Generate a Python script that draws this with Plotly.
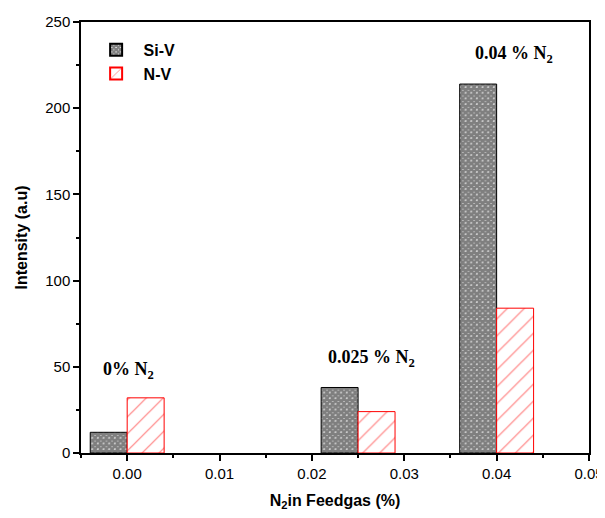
import plotly.graph_objects as go

groups = [0.0, 0.025, 0.04]
si_v = [12, 38, 214]
n_v = [32, 24, 84]
labels = ["0% N<sub>2</sub>", "0.025 % N<sub>2</sub>", "0.04 % N<sub>2</sub>"]
label_x = [0.0001, 0.0264, 0.0419]
label_y = [48, 55, 231]

fig = go.Figure()
fig.add_trace(go.Bar(
    x=groups, y=si_v, name="Si-V", width=0.004, offset=-0.004,
    marker=dict(color="white", line=dict(color="black", width=1),
                pattern=dict(shape="x", fgcolor="black", bgcolor="white", size=4, solidity=0.9)),
))
fig.add_trace(go.Bar(
    x=groups, y=n_v, name="N-V", width=0.004, offset=0,
    marker=dict(color="white", line=dict(color="red", width=1),
                pattern=dict(shape="/", fgcolor="red", bgcolor="white", size=12, solidity=0.1)),
))
for t, xx, yy in zip(labels, label_x, label_y):
    fig.add_annotation(x=xx, y=yy, text=t, showarrow=False,
                       font=dict(family="Liberation Serif", size=18, color="black", weight="bold"),
                       xanchor="center", yanchor="middle")

fig.update_layout(
    width=597, height=510,
    margin=dict(l=73, r=16, t=14, b=65, autoexpand=False),
    plot_bgcolor="white", paper_bgcolor="white",
    barmode="overlay",
    font=dict(family="Arial", size=15, color="black"),
    showlegend=True,
    legend=dict(x=0.015, y=0.975, xanchor="left", yanchor="top",
                font=dict(family="Arial", size=16, color="black", weight="bold"),
                bgcolor="rgba(0,0,0,0)", itemsizing="constant", itemwidth=45, tracegroupgap=2),
    xaxis=dict(range=[-0.005, 0.05], dtick=0.01, tick0=0, tickformat=".2f",
               automargin=False,
               showline=True, linecolor="black", linewidth=1.5, mirror=True,
               ticks="outside", ticklen=6, tickwidth=1.5, tickcolor="black",
               minor=dict(dtick=0.005, tick0=0, ticks="outside", ticklen=3, tickcolor="black"),
               showgrid=False, zeroline=False,
               title=dict(text="N<sub>2</sub>in Feedgas (%)", standoff=14,
                          font=dict(family="Arial", size=16, weight="bold"))),
    yaxis=dict(range=[0, 250], dtick=50, automargin=False,
               showline=True, linecolor="black", linewidth=1.5, mirror=True,
               ticks="outside", ticklen=6, tickwidth=1.5, tickcolor="black",
               minor=dict(dtick=25, ticks="outside", ticklen=3, tickcolor="black"),
               showgrid=False, zeroline=False,
               title=dict(text="Intensity (a.u)", standoff=14,
                          font=dict(family="Arial", size=16, weight="bold"))),
)
fig.write_html("out.html")
